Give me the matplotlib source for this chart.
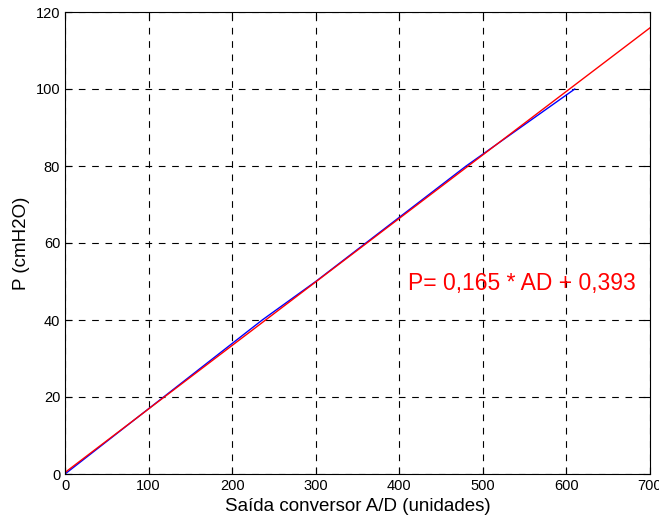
import numpy as np
import matplotlib.pyplot as plt

plt.rcParams['font.family'] = ['Liberation Sans', 'DejaVu Sans']

# calibration readings: converter output vs. water column pressure
ad_units = [0, 118, 236, 300, 360, 480, 610]
pressure = [0, 20, 40, 50, 60, 80, 100]

# linear fit coefficients
slope = 0.165
offset = 0.393
fit_x = np.array([0, 700])
fit_y = slope * fit_x + offset

fig = plt.figure(figsize=(6.59, 5.19), dpi=100)
ax = fig.add_axes([65 / 659, 1 - 474 / 519, 585 / 659, 462 / 519])

ax.plot(ad_units, pressure, color='blue', lw=1)
ax.plot(fit_x, fit_y, color='red', lw=1)

ax.text(410, 49.5, 'P= 0,165 * AD + 0,393', color='red', fontsize=16.5,
        va='center', ha='left')

ax.set_xlim(0, 700)
ax.set_ylim(0, 120)
ax.set_xticks(np.arange(0, 701, 100))
ax.set_yticks(np.arange(0, 121, 20))
ax.grid(True, color='black', linestyle=(0, (6, 6)), lw=0.8)
ax.tick_params(direction='in', labelsize=10.5, length=5, top=True, right=True)
ax.set_xlabel('Saída conversor A/D (unidades)', fontsize=13.5)
ax.set_ylabel('P (cmH2O)', fontsize=13.5)

fig.savefig('out.png', dpi=100)
